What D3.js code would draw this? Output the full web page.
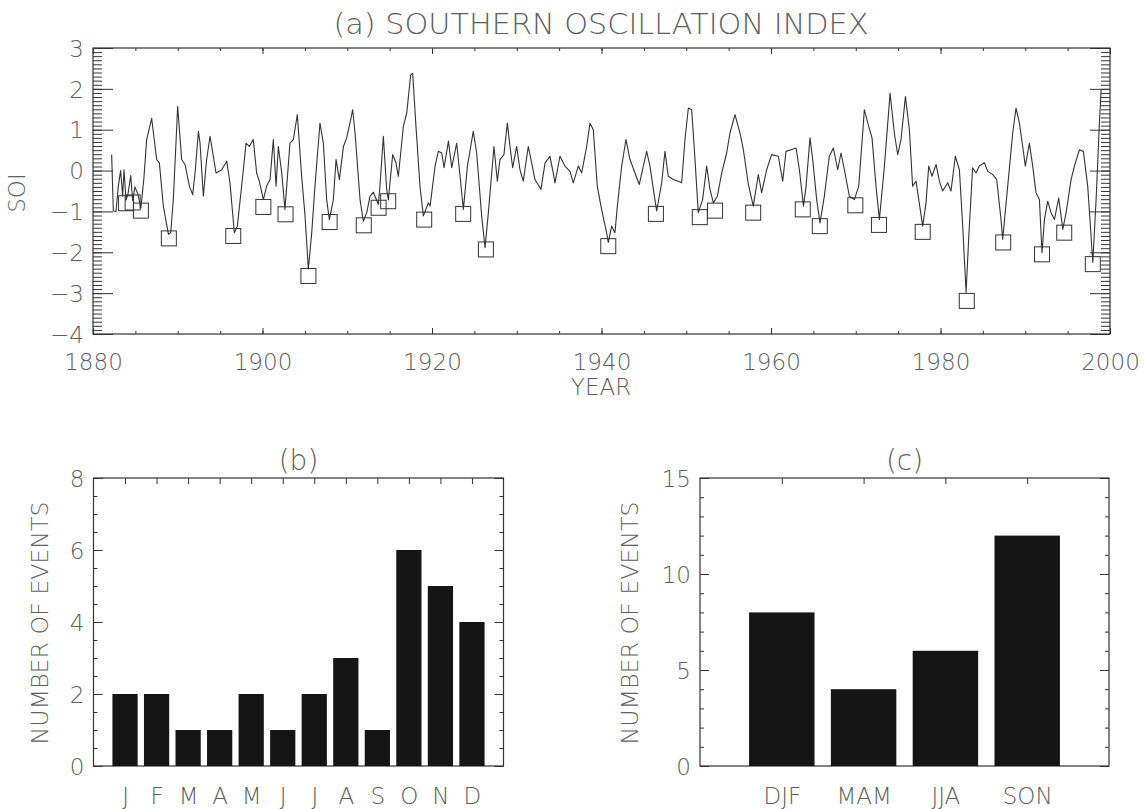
<!DOCTYPE html>
<html>
<head>
<meta charset="utf-8">
<script src="https://cdn.jsdelivr.net/npm/d3@7"></script>
<style>
  body { margin: 0; background: #fff; }
  svg text { font-family: "DejaVu Sans", sans-serif; font-weight: 200; fill: #606060; }
</style>
</head>
<body>
<svg id="fig" width="1146" height="809"></svg>
<script>
// SOI series: [year, index]
const soiSeries = [
  [1882.20,0.39],[1882.40,-0.99],[1882.71,-1.00],[1882.99,-0.38],[1883.26,0.00],[1883.50,-0.62],
  [1883.66,0.02],[1883.90,-0.72],[1884.15,-0.55],[1884.45,-0.12],[1884.68,-0.74],[1884.95,-0.40],
  [1885.30,-0.58],[1885.65,-0.92],[1886.00,-0.20],[1886.33,0.76],[1886.92,1.28],[1887.51,0.27],
  [1887.83,0.19],[1888.30,-0.87],[1888.90,-1.56],[1889.17,-1.52],[1889.48,-0.71],[1889.99,1.57],
  [1890.46,0.27],[1890.86,0.15],[1891.37,-0.38],[1891.76,-0.59],[1892.04,-0.06],[1892.44,0.96],
  [1892.63,0.67],[1893.02,-0.63],[1893.41,0.27],[1893.81,0.84],[1894.20,0.35],[1894.52,-0.06],
  [1895.19,0.02],[1895.78,0.23],[1896.16,-0.30],[1896.68,-1.52],[1897.03,-1.36],[1897.54,-0.38],
  [1898.06,0.67],[1898.45,0.59],[1898.91,0.76],[1899.31,-0.06],[1899.62,-0.26],[1900.10,-0.71],
  [1900.49,-0.38],[1900.89,-0.22],[1901.28,0.76],[1901.60,-0.38],[1901.87,0.59],[1902.27,-0.06],
  [1902.65,-0.95],[1903.24,0.67],[1903.64,0.76],[1904.11,1.37],[1904.62,-0.14],[1905.02,-1.11],
  [1905.41,-2.41],[1905.81,-1.52],[1906.19,-0.38],[1906.78,1.16],[1907.18,0.67],[1907.57,-0.71],
  [1907.89,-1.20],[1908.36,-0.71],[1908.68,0.27],[1909.07,-0.22],[1909.55,0.59],[1909.93,0.80],
  [1910.32,1.16],[1910.64,1.49],[1910.92,0.92],[1911.51,-0.71],[1911.90,-1.24],[1912.30,-1.03],
  [1912.68,-0.63],[1913.08,-0.53],[1913.67,-0.83],[1913.86,-0.38],[1914.26,0.84],[1914.65,-0.46],
  [1914.85,-0.72],[1915.36,0.39],[1915.75,0.19],[1916.03,-0.14],[1916.62,1.08],[1917.02,1.41],
  [1917.48,2.34],[1917.72,2.38],[1918.11,1.08],[1918.58,-0.38],[1918.98,-1.11],[1919.57,-0.79],
  [1919.77,-0.87],[1920.36,0.11],[1920.75,0.47],[1921.15,0.43],[1921.42,0.07],[1921.94,0.72],
  [1922.33,0.07],[1922.91,0.67],[1923.31,-0.14],[1923.70,-0.95],[1924.18,0.11],[1924.87,0.96],
  [1925.27,0.43],[1925.86,-1.11],[1926.26,-1.89],[1926.65,-1.03],[1927.31,0.59],[1927.71,-0.26],
  [1928.02,0.27],[1928.49,0.39],[1928.89,1.16],[1929.20,0.59],[1929.52,0.07],[1929.99,0.59],
  [1930.38,0.02],[1930.77,-0.26],[1931.36,0.59],[1931.76,0.19],[1932.15,-0.22],[1932.86,-0.46],
  [1933.34,0.19],[1933.92,0.35],[1934.31,-0.06],[1934.51,-0.30],[1935.10,0.35],[1935.69,0.11],
  [1936.28,-0.02],[1936.67,-0.30],[1937.26,0.11],[1937.66,-0.06],[1938.25,0.59],[1938.64,1.16],
  [1939.03,1.00],[1939.50,-0.38],[1940.01,-0.95],[1940.60,-1.52],[1940.80,-1.76],[1941.20,-1.36],
  [1941.59,-1.52],[1941.87,-0.87],[1942.38,0.11],[1942.89,0.76],[1943.36,0.27],[1943.95,-0.06],
  [1944.46,-0.34],[1944.93,0.11],[1945.33,0.47],[1945.72,0.11],[1946.12,-0.46],[1946.51,-0.99],
  [1947.10,-0.30],[1947.49,0.47],[1947.88,-0.14],[1948.47,-0.22],[1949.07,-0.26],[1949.46,-0.30],
  [1949.85,0.76],[1950.25,1.53],[1950.64,1.49],[1951.03,0.27],[1951.42,-1.03],[1951.93,-0.71],
  [1952.41,0.11],[1952.80,-0.46],[1953.20,-0.79],[1953.67,-0.63],[1954.18,-0.06],[1954.77,0.43],
  [1955.16,0.92],[1955.75,1.37],[1956.34,0.92],[1956.74,0.51],[1957.33,-0.34],[1957.91,-0.87],
  [1958.50,-0.10],[1958.90,-0.54],[1959.49,0.02],[1960.07,0.39],[1960.86,0.35],[1961.38,-0.26],
  [1961.77,0.47],[1962.37,0.51],[1962.96,0.55],[1963.35,0.02],[1963.83,-0.87],[1964.14,-0.38],
  [1964.60,0.80],[1964.92,0.27],[1965.39,-0.71],[1965.78,-1.28],[1966.29,-0.63],[1966.88,0.35],
  [1967.36,0.55],[1967.87,0.02],[1968.26,0.43],[1968.66,0.02],[1969.25,-0.63],[1969.84,-0.71],
  [1970.35,-0.38],[1970.82,0.92],[1971.01,1.49],[1971.53,1.08],[1971.92,0.80],[1972.39,-0.38],
  [1972.79,-1.20],[1973.38,0.11],[1974.05,1.89],[1974.55,0.92],[1974.95,0.39],[1975.34,0.76],
  [1975.86,1.81],[1976.33,1.00],[1976.71,-0.38],[1977.11,-0.26],[1977.90,-1.36],[1978.29,-0.79],
  [1978.61,0.11],[1979.00,-0.14],[1979.48,0.15],[1979.87,-0.26],[1980.25,-0.50],[1980.85,-0.30],
  [1981.24,-0.50],[1981.75,0.35],[1982.23,0.02],[1982.62,-1.36],[1983.02,-2.98],[1983.32,-1.68],
  [1983.79,0.07],[1984.19,-0.06],[1984.58,0.11],[1985.18,0.19],[1985.57,-0.02],[1986.16,-0.10],
  [1986.63,-0.22],[1987.14,-1.20],[1987.34,-1.68],[1987.93,-0.38],[1988.52,0.92],[1988.91,1.53],
  [1989.31,1.16],[1989.70,0.59],[1990.01,0.11],[1990.49,0.67],[1990.88,0.11],[1991.27,-0.54],
  [1991.67,-0.71],[1991.98,-2.01],[1992.26,-1.20],[1992.65,-0.75],[1993.04,-1.03],[1993.44,-1.20],
  [1993.95,-0.67],[1994.43,-1.44],[1994.82,-1.03],[1995.41,-0.22],[1995.80,0.11],[1996.39,0.51],
  [1996.86,0.47],[1997.37,-0.38],[1997.57,-0.99],[1997.97,-2.25],[1998.36,-0.71],[1998.75,1.16],
  [1998.95,1.98]
];

// marked El Nino events (squares)
const eventYears = [1883.90,1884.68,1885.65,1888.95,1896.55,1900.10,1902.72,1905.42,1907.92,1911.95,
  1913.70,1914.83,1919.08,1923.68,1926.36,1940.80,1946.42,1951.60,1953.40,1957.90,
  1963.75,1965.76,1969.95,1972.74,1977.90,1983.10,1987.40,1991.98,1994.60,1997.97];
const eventValues = [-0.80,-0.78,-0.98,-1.66,-1.60,-0.89,-1.07,-2.58,-1.26,-1.34,
  -0.91,-0.75,-1.20,-1.06,-1.93,-1.85,-1.06,-1.14,-0.98,-1.03,
  -0.95,-1.36,-0.85,-1.33,-1.50,-3.19,-1.76,-2.05,-1.52,-2.29];

// panel (b)
const months = ["J","F","M","A","M","J","J","A","S","O","N","D"];
const monthCounts = [2,2,1,1,2,1,2,3,1,6,5,4];

// panel (c)
const seasons = ["DJF","MAM","JJA","SON"];
const seasonCounts = [8,4,6,12];

const svg = d3.select("#fig");
const ink = "#333";

// IDL style frame: box + inward ticks on all four sides
function frame(g, x, y, o) {
  const [x0, x1] = x.range(), [y0, y1] = y.range();
  const inward = (axis, vals, len) => axis.tickValues(vals).tickSize(-len).tickFormat("");
  const add = (axis, tr) => {
    const a = g.append("g").attr("transform", tr).call(axis);
    a.select(".domain").remove();
    a.selectAll("line").attr("stroke", ink).attr("stroke-width", 1);
  };
  [[o.yMinor, o.yMinorLen], [o.yMajor, o.yMajorLen]].forEach(([v, l]) => {
    add(inward(d3.axisLeft(y), v, l), `translate(${x0},0)`);
    add(inward(d3.axisRight(y), v, l), `translate(${x1},0)`);
  });
  [[o.xMinor, o.xMinorLen], [o.xMajor, o.xMajorLen]].forEach(([v, l]) => {
    add(inward(d3.axisBottom(x), v, l), `translate(0,${y0})`);
    add(inward(d3.axisTop(x), v, l), `translate(0,${y1})`);
  });
  g.append("rect").attr("x", x0).attr("y", y1)
    .attr("width", x1 - x0).attr("height", y0 - y1)
    .attr("fill", "none").attr("stroke", ink).attr("stroke-width", 1.2);

  // tick labels
  const yl = g.append("g").attr("transform", `translate(${x0 - 9},0)`)
    .call(d3.axisLeft(y).tickValues(o.yLabels).tickSize(0).tickFormat(o.yFmt || d3.format("d")));
  yl.select(".domain").remove();
  yl.selectAll("text").attr("font-size", 23).attr("dy", "0.36em").attr("x", 0);
}

function label(x, y, txt, size, rot, len) {
  const t = svg.append("text")
    .attr("text-anchor", "middle")
    .attr("font-size", size)
    .attr("transform", `translate(${x},${y}) rotate(${rot || 0})`)
    .text(txt);
  if (len) t.attr("textLength", len).attr("lengthAdjust", "spacingAndGlyphs");
  return t;
}

// ---------- panel (a) ----------
const xa = d3.scaleLinear().domain([1880, 2000]).range([93, 1110]);
const ya = d3.scaleLinear().domain([-4, 3]).range([334, 48]);
const ga = svg.append("g");

frame(ga, xa, ya, {
  yMinor: d3.range(-40, 31).map(d => d / 10), yMinorLen: 9,
  yMajor: d3.range(-4, 4), yMajorLen: 20,
  xMinor: d3.range(1880, 2001, 5), xMinorLen: 3,
  xMajor: d3.range(1880, 2001, 20), xMajorLen: 6,
  yLabels: d3.range(-4, 4),
  yFmt: d => (d < 0 ? "\u2212" + Math.abs(d) : d)
});

const xla = ga.append("g").attr("transform", `translate(0,${ya.range()[0] + 17})`)
  .call(d3.axisBottom(xa).tickValues(d3.range(1880, 2001, 20)).tickSize(0).tickFormat(d3.format("d")));
xla.select(".domain").remove();
xla.selectAll("text").attr("font-size", 23).attr("dy", "0.71em");

ga.append("path")
  .datum(soiSeries)
  .attr("fill", "none")
  .attr("stroke", ink)
  .attr("stroke-width", 1.1)
  .attr("stroke-linejoin", "round")
  .attr("d", d3.line().x(d => xa(d[0])).y(d => ya(d[1])));

ga.selectAll("rect.ev")
  .data(eventYears.map((yr, i) => [yr, eventValues[i]]))
  .join("rect")
  .attr("class", "ev")
  .attr("x", d => xa(d[0]) - 7.5)
  .attr("y", d => ya(d[1]) - 7.5)
  .attr("width", 15).attr("height", 15)
  .attr("fill", "none").attr("stroke", ink).attr("stroke-width", 1);

label(601, 34, "(a) SOUTHERN OSCILLATION INDEX", 28, 0, 535);
label(601, 395, "YEAR", 23);
label(25, 193, "SOI", 23, -90);

// ---------- bar panels ----------
function barPanel(cats, counts, x, y, o) {
  const g = svg.append("g");
  const idx = d3.range(1, cats.length + 1);
  frame(g, x, y, {
    yMinor: o.yMinor, yMinorLen: 4, yMajor: o.yMajor, yMajorLen: 9,
    xMinor: idx, xMinorLen: 6, xMajor: [], xMajorLen: 0,
    yLabels: o.yMajor
  });
  g.selectAll("rect.bar")
    .data(counts)
    .join("rect")
    .attr("class", "bar")
    .attr("x", (d, i) => x(i + 1 - 0.4))
    .attr("width", x(0.8) - x(0))
    .attr("y", d => y(d))
    .attr("height", d => y(0) - y(d))
    .attr("fill", "#151515");
  const xl = g.append("g").attr("transform", `translate(0,${y.range()[0] + 19})`)
    .call(d3.axisBottom(x).tickValues(idx).tickSize(0).tickFormat((d, i) => cats[i]));
  xl.select(".domain").remove();
  xl.selectAll("text").attr("font-size", 23).attr("dy", "0.71em");
  return g;
}

const xb = d3.scaleLinear().domain([0, 13]).range([93.5, 503.5]);
const yb = d3.scaleLinear().domain([0, 8]).range([766, 478]);
barPanel(months, monthCounts, xb, yb, {
  yMinor: d3.range(0, 8.01, 0.5), yMajor: d3.range(0, 9, 2)
});
label(298.5, 470, "(b)", 28);
label(48, 623, "NUMBER OF EVENTS", 23, -90, 243);

const xc = d3.scaleLinear().domain([0, 5]).range([700, 1109]);
const yc = d3.scaleLinear().domain([0, 15]).range([766, 478]);
barPanel(seasons, seasonCounts, xc, yc, {
  yMinor: d3.range(0, 16), yMajor: d3.range(0, 16, 5)
});
label(904.5, 470, "(c)", 28);
label(638, 623, "NUMBER OF EVENTS", 23, -90, 243);
</script>
</body>
</html>
